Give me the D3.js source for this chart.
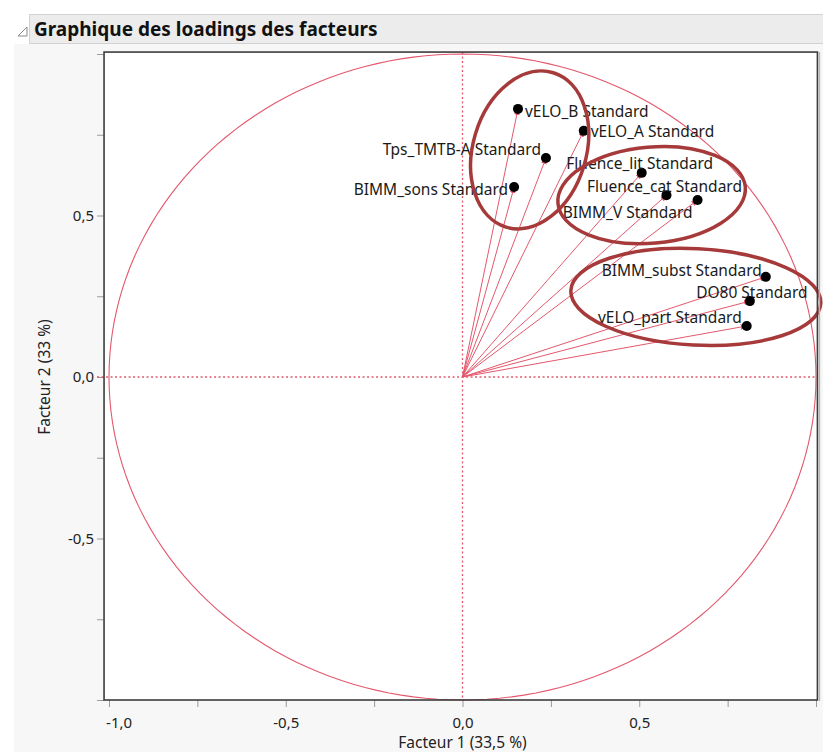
<!DOCTYPE html>
<html>
<head>
<meta charset="utf-8">
<script src="https://cdn.jsdelivr.net/npm/d3@7"></script>
<style>
  html, body { margin: 0; padding: 0; background: #ffffff; }
  svg { display: block; }
  text { font-family: "Noto Sans", "Open Sans", sans-serif; }
</style>
</head>
<body>
<svg id="chart" width="823" height="752"></svg>
<script>
// ---------- data ----------
const variables = [
  "vELO_B Standard", "vELO_A Standard", "Tps_TMTB-A Standard", "BIMM_sons Standard",
  "Fluence_lit Standard", "Fluence_cat Standard", "BIMM_V Standard",
  "BIMM_subst Standard", "DO80 Standard", "vELO_part Standard"
];
const factor1 = [0.157, 0.343, 0.236, 0.146, 0.507, 0.577, 0.665, 0.858, 0.813, 0.804];
const factor2 = [0.830, 0.762, 0.678, 0.588, 0.632, 0.563, 0.548, 0.310, 0.235, 0.158];

const xTickValues = [-1, -0.75, -0.5, -0.25, 0, 0.25, 0.5, 0.75, 1];
const yTickValues = [-1, -0.75, -0.5, -0.25, 0, 0.25, 0.5, 0.75, 1];
const xTickLabels = ["-1,0", "", "-0,5", "", "0,0", "", "0,5", "", ""];
const yTickLabels = ["", "", "-0,5", "", "0,0", "", "0,5", "", ""];

const titleText = "Graphique des loadings des facteurs";
const xAxisTitle = "Facteur 1  (33,5 %)";
const yAxisTitle = "Facteur 2  (33 %)";

// label placement relative to each point (anchor, dx px, dy px of text centre)
const labelPlacement = [
  ["start", 7, 3], ["start", 7, 1], ["end", -5, -8], ["end", -6, 2],
  ["middle", -2, -9], ["middle", -2, -9], ["end", -5, 13],
  ["end", -4, -6], ["middle", 2, -9], ["end", -5, -8]
];

// hand-drawn group ellipses: centre (factor units), semi-axes (factor units), rotation (deg)
const groupCx = [0.190, 0.535, 0.660];
const groupCy = [0.703, 0.563, 0.248];
const groupRx = [0.160, 0.266, 0.354];
const groupRy = [0.250, 0.149, 0.149];
const groupRot = [17, -5, 3];

// ---------- layout ----------
const svg = d3.select("#chart");
const W = 823, H = 752;

const x = d3.scaleLinear().domain([-1, 1]).range([109, 816]);
const y = d3.scaleLinear().domain([-1, 1]).range([700, 54]);

const frame = { left: x(-1.014), right: x(1.004), top: y(1.006), bottom: y(-1.0) };

const red = "#e3586c";
const ellipseRed = "#a63a3a";
const labelSize = 15.5;
const tickSize = 15;

// backgrounds
svg.append("rect").attr("x", 0).attr("y", 0).attr("width", W).attr("height", H).attr("fill", "#ffffff");
svg.append("rect").attr("x", 14).attr("y", 44).attr("width", W - 14).attr("height", H - 44).attr("fill", "#f7f7f7");

// title bar
svg.append("rect").attr("x", 29.5).attr("y", 14.5).attr("width", W - 29).attr("height", 29)
  .attr("fill", "#ececec").attr("stroke", "#d2d2d2");
svg.append("path").attr("d", "M18,36 L27,36 L27,27 Z").attr("fill", "none").attr("stroke", "#8a8a8a").attr("stroke-width", 1);
svg.append("text").attr("x", 34).attr("y", 36).attr("font-weight", "bold").attr("font-size", 19)
  .attr("fill", "#111").text(titleText);

// plot area
svg.append("rect").attr("x", frame.left).attr("y", frame.top)
  .attr("width", frame.right - frame.left).attr("height", frame.bottom - frame.top)
  .attr("fill", "#ffffff");

// axes
const xAxis = d3.axisBottom(x).tickValues(xTickValues).tickSize(7)
  .tickFormat((d, i) => xTickLabels[i]);
const gx = svg.append("g").attr("transform", `translate(0,${frame.bottom})`).call(xAxis);
gx.select(".domain").remove();
gx.selectAll(".tick line").attr("stroke", "#9a9a9a");
gx.selectAll(".tick text").attr("font-size", tickSize).attr("fill", "#222").attr("dy", "1.2em")
  .attr("font-family", "Noto Sans, sans-serif");
gx.selectAll(".tick text").each(function () {
  const b = this.getBBox();
  const tr = d3.select(this.parentNode).attr("transform");
  const tx = +tr.match(/translate\(([-\d.]+)/)[1];
  if (tx + b.x < frame.left) d3.select(this).attr("x", frame.left - (tx + b.x) + 2);
});

const yAxis = d3.axisLeft(y).tickValues(yTickValues).tickSize(7)
  .tickFormat((d, i) => yTickLabels[i]);
const gy = svg.append("g").attr("transform", `translate(${frame.left},0)`).call(yAxis);
gy.select(".domain").remove();
gy.selectAll(".tick line").attr("stroke", "#9a9a9a");
gy.selectAll(".tick text").attr("font-size", tickSize).attr("fill", "#222").attr("x", -10)
  .attr("font-family", "Noto Sans, sans-serif");

// axis titles
svg.append("text").attr("x", x(0)).attr("y", 748).attr("text-anchor", "middle")
  .attr("font-size", 15.5).attr("fill", "#222").text(xAxisTitle);
svg.append("text").attr("transform", `translate(50,${y(0)}) rotate(-90)`).attr("text-anchor", "middle")
  .attr("font-size", 15.5).attr("fill", "#222").text(yAxisTitle);

// reference lines
svg.append("line").attr("x1", x(0)).attr("x2", x(0)).attr("y1", frame.top).attr("y2", frame.bottom)
  .attr("stroke", red).attr("stroke-width", 1.3).attr("stroke-dasharray", "2,2.5");
svg.append("line").attr("x1", frame.left - 7).attr("x2", frame.right).attr("y1", y(0)).attr("y2", y(0))
  .attr("stroke", red).attr("stroke-width", 1.3).attr("stroke-dasharray", "2,2.5");

// unit circle (drawn through scales)
const circ = d3.range(0, 361, 2).map(a => [Math.cos(a * Math.PI / 180), Math.sin(a * Math.PI / 180)]);
svg.append("path").attr("d", d3.line().x(d => x(d[0])).y(d => y(d[1]))(circ))
  .attr("fill", "none").attr("stroke", red).attr("stroke-width", 1.1);

// arrow marker
const defs = svg.append("defs");
defs.append("marker").attr("id", "arr").attr("viewBox", "0 0 10 10").attr("refX", 10).attr("refY", 5)
  .attr("markerWidth", 6).attr("markerHeight", 6).attr("markerUnits", "userSpaceOnUse").attr("orient", "auto")
  .append("path").attr("d", "M0,0 L10,5 L0,10 Z").attr("fill", red);

// loading vectors
const pts = variables.map((v, i) => ({ name: v, f1: factor1[i], f2: factor2[i], lp: labelPlacement[i] }));
svg.append("g").selectAll("line").data(pts).join("line")
  .attr("x1", x(0)).attr("y1", y(0)).attr("x2", d => x(d.f1)).attr("y2", d => y(d.f2))
  .attr("stroke", red).attr("stroke-width", 1).attr("marker-end", "url(#arr)");

// points
svg.append("g").selectAll("circle").data(pts).join("circle")
  .attr("cx", d => x(d.f1)).attr("cy", d => y(d.f2)).attr("r", 5).attr("fill", "#000");

// labels
svg.append("g").selectAll("text").data(pts).join("text")
  .attr("x", d => x(d.f1) + d.lp[1]).attr("y", d => y(d.f2) + d.lp[2])
  .attr("dy", "0.35em").attr("text-anchor", d => d.lp[0])
  .attr("font-size", labelSize).attr("fill", "#1a1a1a").text(d => d.name);

// group ellipses
const groups = groupCx.map((c, i) => ({ cx: c, cy: groupCy[i], rx: groupRx[i], ry: groupRy[i], rot: groupRot[i] }));
svg.append("g").selectAll("ellipse").data(groups).join("ellipse")
  .attr("transform", d => `translate(${x(d.cx)},${y(d.cy)}) rotate(${d.rot})`)
  .attr("rx", d => x(d.rx) - x(0)).attr("ry", d => y(0) - y(d.ry))
  .attr("fill", "none").attr("stroke", ellipseRed).attr("stroke-width", 3.5);

// frame border
svg.append("rect").attr("x", frame.left).attr("y", frame.top)
  .attr("width", frame.right - frame.left).attr("height", frame.bottom - frame.top)
  .attr("fill", "none").attr("stroke", "#3c3c3c").attr("stroke-width", 1.6);
svg.append("line").attr("x1", frame.right + 2).attr("x2", frame.right + 2).attr("y1", frame.top).attr("y2", frame.bottom + 1)
  .attr("stroke", "#b5b5b5").attr("stroke-width", 1.5);
</script>
</body>
</html>
